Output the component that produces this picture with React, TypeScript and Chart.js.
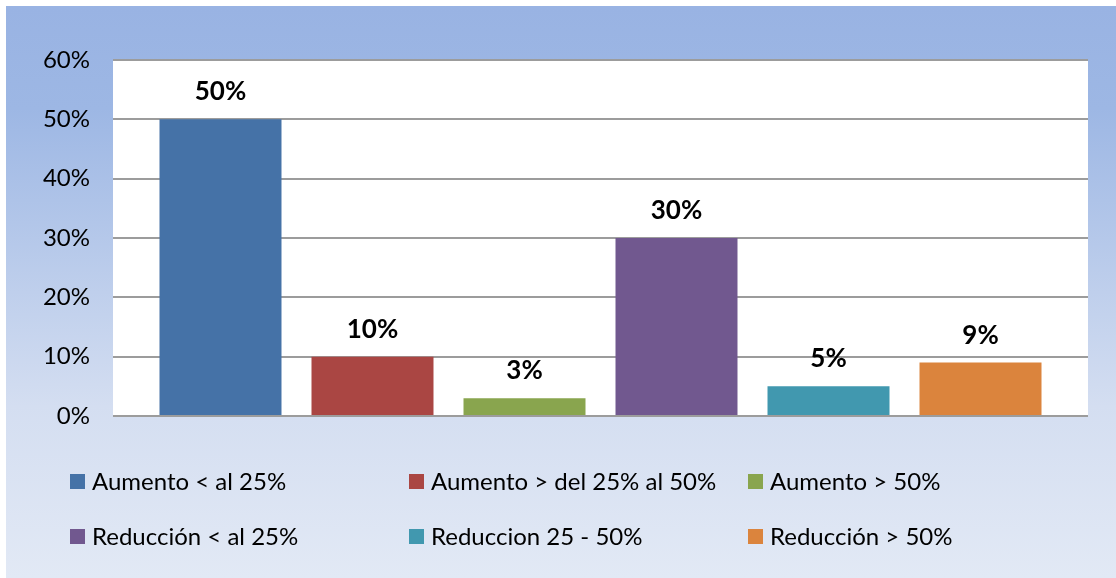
import React, { useEffect, useRef } from "react";
import { Chart, registerables } from "chart.js";

Chart.register(...registerables);

const categories = [""];
const seriesNames = [
  "Aumento < al 25%",
  "Aumento > del 25% al 50%",
  "Aumento > 50%",
  "Reducción < al 25%",
  "Reduccion 25 - 50%",
  "Reducción > 50%",
];
const seriesValues = [50, 10, 3, 30, 5, 9];
const seriesColors = ["#4572A7", "#AA4643", "#89A54E", "#71588F", "#4198AF", "#DB843D"];
const yTicks = [0, 10, 20, 30, 40, 50, 60];

const FONT = "Lato, 'Open Sans', sans-serif";

const bgPlugin = {
  id: "bgPlugin",
  beforeDraw(chart: any) {
    const { ctx, width, height, chartArea } = chart;
    ctx.save();
    const g = ctx.createLinearGradient(0, 0, 0, height);
    g.addColorStop(0, "#99b3e3");
    g.addColorStop(0.18, "#9db7e4");
    g.addColorStop(0.7, "#d4def1");
    g.addColorStop(1, "#e2e9f5");
    ctx.fillStyle = g;
    ctx.fillRect(0, 0, width, height);
    ctx.fillStyle = "#ffffff";
    ctx.fillRect(chartArea.left, chartArea.top, chartArea.right - chartArea.left, chartArea.bottom - chartArea.top);
    ctx.restore();
  },
};

const labelPlugin = {
  id: "labelPlugin",
  afterDatasetsDraw(chart: any) {
    const { ctx } = chart;
    ctx.save();
    ctx.font = `bold 26px ${FONT}`;
    ctx.fillStyle = "#000";
    ctx.textAlign = "center";
    ctx.textBaseline = "alphabetic";
    chart.data.datasets.forEach((ds: any, i: number) => {
      const meta = chart.getDatasetMeta(i);
      meta.data.forEach((bar: any, j: number) => {
        ctx.fillText(`${ds.data[j]}%`, bar.x, bar.y - 19);
      });
    });
    ctx.restore();
  },
};

const legendPlugin = {
  id: "gridLegend",
  afterDraw(chart: any) {
    const { ctx } = chart;
    const colX = [64, 403, 742];
    const rowY = [468, 523];
    ctx.save();
    ctx.font = `24px ${FONT}`;
    ctx.textBaseline = "middle";
    ctx.textAlign = "left";
    chart.data.datasets.forEach((ds: any, i: number) => {
      const x = colX[i % 3];
      const y = rowY[Math.floor(i / 3)];
      ctx.fillStyle = ds.backgroundColor;
      ctx.fillRect(x, y, 15, 15);
      ctx.fillStyle = "#000";
      ctx.fillText(ds.label, x + 22, y + 8.5);
    });
    ctx.restore();
  },
};

export default function App() {
  const ref = useRef<HTMLCanvasElement | null>(null);
  useEffect(() => {
    if (!ref.current) return;
    const chart = new Chart(ref.current, {
      type: "bar",
      data: {
        labels: categories,
        datasets: seriesNames.map((name, i) => ({
          label: name,
          data: [seriesValues[i]],
          backgroundColor: seriesColors[i],
          borderWidth: 0,
          categoryPercentage: 0.9354,
          barPercentage: 0.8026,
        })),
      },
      options: {
        animation: false,
        responsive: true,
        maintainAspectRatio: false,
        layout: { padding: { top: 54, right: 28, bottom: 162, left: 0 } },
        plugins: {
          legend: { display: false },
          tooltip: { enabled: false },
        },
        scales: {
          x: { display: false },
          y: {
            min: 0,
            max: 60,
            afterBuildTicks(scale: any) {
              scale.ticks = yTicks.map((v) => ({ value: v }));
            },
            afterFit(scale: any) {
              scale.width = 107;
            },
            border: { display: false },
            grid: { color: "#9c9c9c", lineWidth: 2, drawTicks: false },
            ticks: {
              padding: 23,
              color: "#000",
              font: { family: FONT, size: 24 },
              callback: (v: any) => `${v}%`,
            },
          },
        },
      },
      plugins: [bgPlugin, labelPlugin, legendPlugin],
    });
    return () => chart.destroy();
  }, []);
  return (
    <div style={{ position: "absolute", left: 6, top: 6, width: 1110, height: 572 }}>
      <canvas ref={ref} />
    </div>
  );
}
